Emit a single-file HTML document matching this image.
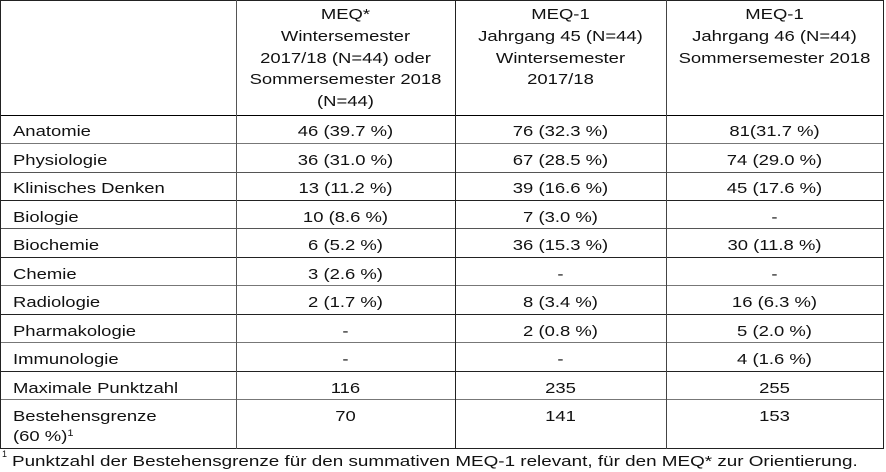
<!DOCTYPE html>
<html>
<head>
<meta charset="utf-8">
<style>
  html, body { margin:0; padding:0; background:#fff; }
  body { width:886px; height:472px; position:relative; overflow:hidden;
         font-family:"Liberation Sans", Arial, sans-serif; font-size:15px; color:#111; }
  .h { position:absolute; height:1px; background:#222; }
  .v { position:absolute; width:1px; background:#222; top:0; height:449px; }
  .t { position:absolute; line-height:17px; white-space:nowrap; }
  .l { transform:scaleX(1.23); transform-origin:0 0; }
  .c { text-align:center; transform:scaleX(1.23); transform-origin:50% 0; }
  .hd { position:absolute; top:4px; line-height:21.75px; text-align:center; white-space:nowrap;
        transform:scaleX(1.23); transform-origin:50% 0; }
  .c2 { left:236px; width:219px; }
  .c3 { left:455px; width:211px; }
  .c4 { left:666px; width:217px; }
  sup { font-size:9px; vertical-align:top; position:relative; top:-3px; }
</style>
</head>
<body>
  <!-- horizontal lines -->
  <div class="h" style="left:0;width:884px;top:0"></div>
  <div class="h" style="left:0;width:884px;top:115px;background:#000"></div>
  <div class="h" style="left:0;width:884px;top:143px;background:#777"></div>
  <div class="h" style="left:0;width:884px;top:172px;background:#555"></div>
  <div class="h" style="left:0;width:884px;top:200px"></div>
  <div class="h" style="left:0;width:884px;top:228px;background:#555"></div>
  <div class="h" style="left:0;width:884px;top:257px"></div>
  <div class="h" style="left:0;width:884px;top:285px;background:#777"></div>
  <div class="h" style="left:0;width:884px;top:314px"></div>
  <div class="h" style="left:0;width:884px;top:342px;background:#777"></div>
  <div class="h" style="left:0;width:884px;top:371px"></div>
  <div class="h" style="left:0;width:884px;top:399px;background:#777"></div>
  <div class="h" style="left:0;width:884px;top:448px"></div>
  <!-- vertical lines -->
  <div class="v" style="left:0"></div>
  <div class="v" style="left:236px;background:#555"></div>
  <div class="v" style="left:455px"></div>
  <div class="v" style="left:666px;background:#444"></div>
  <div class="v" style="left:883px"></div>

  <!-- header -->
  <div class="hd c2">MEQ*<br>Wintersemester<br>2017/18 (N=44) oder<br>Sommersemester 2018<br>(N=44)</div>
  <div class="hd c3">MEQ-1<br>Jahrgang 45 (N=44)<br>Wintersemester<br>2017/18</div>
  <div class="hd c4">MEQ-1<br>Jahrgang 46 (N=44)<br>Sommersemester 2018</div>

  <!-- rows -->
  <div class="t l" style="left:12.5px;top:123px">Anatomie</div>
  <div class="t c c2" style="top:123px">46 (39.7 %)</div>
  <div class="t c c3" style="top:123px">76 (32.3 %)</div>
  <div class="t c c4" style="top:123px">81(31.7 %)</div>

  <div class="t l" style="left:12.5px;top:151.5px">Physiologie</div>
  <div class="t c c2" style="top:151.5px">36 (31.0 %)</div>
  <div class="t c c3" style="top:151.5px">67 (28.5 %)</div>
  <div class="t c c4" style="top:151.5px">74 (29.0 %)</div>

  <div class="t l" style="left:12.5px;top:180px">Klinisches Denken</div>
  <div class="t c c2" style="top:180px">13 (11.2 %)</div>
  <div class="t c c3" style="top:180px">39 (16.6 %)</div>
  <div class="t c c4" style="top:180px">45 (17.6 %)</div>

  <div class="t l" style="left:12.5px;top:208.5px">Biologie</div>
  <div class="t c c2" style="top:208.5px">10 (8.6 %)</div>
  <div class="t c c3" style="top:208.5px">7 (3.0 %)</div>
  <div class="t c c4" style="top:208.5px">-</div>

  <div class="t l" style="left:12.5px;top:237px">Biochemie</div>
  <div class="t c c2" style="top:237px">6 (5.2 %)</div>
  <div class="t c c3" style="top:237px">36 (15.3 %)</div>
  <div class="t c c4" style="top:237px">30 (11.8 %)</div>

  <div class="t l" style="left:12.5px;top:265.5px">Chemie</div>
  <div class="t c c2" style="top:265.5px">3 (2.6 %)</div>
  <div class="t c c3" style="top:265.5px">-</div>
  <div class="t c c4" style="top:265.5px">-</div>

  <div class="t l" style="left:12.5px;top:294px">Radiologie</div>
  <div class="t c c2" style="top:294px">2 (1.7 %)</div>
  <div class="t c c3" style="top:294px">8 (3.4 %)</div>
  <div class="t c c4" style="top:294px">16 (6.3 %)</div>

  <div class="t l" style="left:12.5px;top:322.5px">Pharmakologie</div>
  <div class="t c c2" style="top:322.5px">-</div>
  <div class="t c c3" style="top:322.5px">2 (0.8 %)</div>
  <div class="t c c4" style="top:322.5px">5 (2.0 %)</div>

  <div class="t l" style="left:12.5px;top:351px">Immunologie</div>
  <div class="t c c2" style="top:351px">-</div>
  <div class="t c c3" style="top:351px">-</div>
  <div class="t c c4" style="top:351px">4 (1.6 %)</div>

  <div class="t l" style="left:12.5px;top:379.5px">Maximale Punktzahl</div>
  <div class="t c c2" style="top:379.5px">116</div>
  <div class="t c c3" style="top:379.5px">235</div>
  <div class="t c c4" style="top:379.5px">255</div>

  <div class="t l" style="left:12.5px;top:408px">Bestehensgrenze</div>
  <div class="t l" style="left:12.5px;top:428px">(60 %)<sup>1</sup></div>
  <div class="t c c2" style="top:408px">70</div>
  <div class="t c c3" style="top:408px">141</div>
  <div class="t c c4" style="top:408px">153</div>

  <!-- footnote -->
  <div class="t" style="left:2px;top:449px;font-size:9px;line-height:10px">1</div>
  <div class="t" style="left:12px;top:452.5px;transform:scaleX(1.257);transform-origin:0 0">Punktzahl der Bestehensgrenze für den summativen MEQ-1 relevant, für den MEQ* zur Orientierung.</div>
</body>
</html>
